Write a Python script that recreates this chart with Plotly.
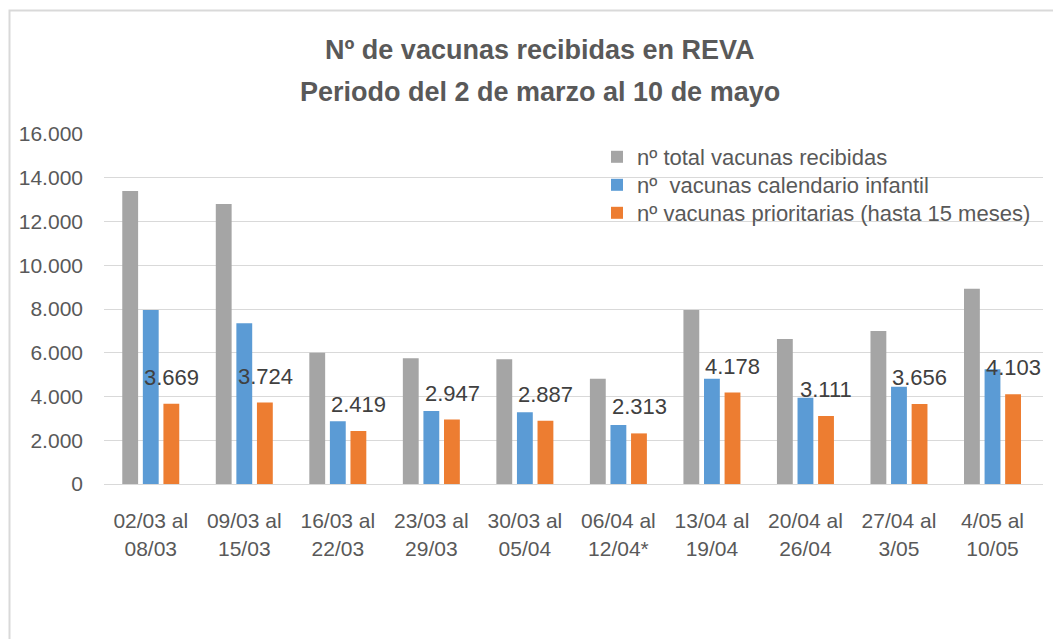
import plotly.graph_objects as go

categories = ["02/03 al<br>08/03", "09/03 al<br>15/03", "16/03 al<br>22/03", "23/03 al<br>29/03",
              "30/03 al<br>05/04", "06/04 al<br>12/04*", "13/04 al<br>19/04", "20/04 al<br>26/04",
              "27/04 al<br>3/05", "4/05 al<br>10/05"]
total_recibidas = [13400, 12800, 6000, 5745, 5700, 4814, 7954, 6629, 6994, 8929]
calendario_infantil = [7950, 7345, 2865, 3337, 3276, 2697, 4814, 3947, 4449, 5242]
prioritarias = [3669, 3724, 2419, 2947, 2887, 2313, 4178, 3111, 3656, 4103]
series_names = ["nº total vacunas recibidas", "nº  vacunas calendario infantil",
                "nº vacunas prioritarias (hasta 15 meses)"]
title_lines = ["Nº de vacunas recibidas en REVA", "Periodo del 2 de marzo al 10 de mayo"]
y_ticks = [0, 2000, 4000, 6000, 8000, 10000, 12000, 14000, 16000]

GRAY = "#A5A5A5"
BLUE = "#5B9BD5"
ORANGE = "#ED7D31"
FONT = "Liberation Sans, Arial, sans-serif"

# page body has an 8px margin: figure placed at (8, 8) in the window
OFF = 8
W, H = 1061 - OFF, 639 - OFF
# target pixel positions in window coordinates
PL, PR, PT, PB = 104, 1043, 134, 484
L, R, T, B = PL - OFF, W - (PR - OFF), PT - OFF, H - (PB - OFF)
pw = W - L - R
ph = H - T - B


def px_x(px):
    return (px - OFF - L) / pw


def px_y(py):
    return (H - B - (py - OFF)) / ph


fig = go.Figure()
legend_ids = ["legend", "legend2", "legend3"]
for name, vals, col, lg in zip(series_names, [total_recibidas, calendario_infantil, prioritarias],
                               [GRAY, BLUE, ORANGE], legend_ids):
    fig.add_trace(go.Bar(x=categories, y=vals, name=name, marker_color=col,
                         marker_line_width=0, legend=lg))


def fmt(v):
    return f"{v:,}".replace(",", ".")


for c, v in zip(categories, prioritarias):
    fig.add_annotation(x=c, y=v, xref="x", yref="y", text=fmt(v), showarrow=False,
                       xshift=21, yshift=12, yanchor="bottom",
                       font=dict(family=FONT, size=22, color="#404040"))

for txt, py in zip(title_lines, [50, 92]):
    fig.add_annotation(x=px_x(540), y=px_y(py), xref="paper", yref="paper", text="<b>" + txt + "</b>",
                       showarrow=False, xanchor="center", yanchor="middle",
                       font=dict(family=FONT, size=27, color="#595959"))

fig.add_shape(type="path", xref="paper", yref="paper",
              path=f"M {px_x(9.5)} {px_y(700)} L {px_x(9.5)} {px_y(10.5)} L {px_x(1100)} {px_y(10.5)}",
              line=dict(color="#D9D9D9", width=2))

legend_common = dict(xanchor="left", yanchor="middle",
                     font=dict(family=FONT, size=22, color="#595959"),
                     bgcolor="rgba(0,0,0,0)", itemwidth=30)

fig.update_layout(
    width=W, height=H,
    margin=dict(l=L, r=R, t=T, b=B),
    paper_bgcolor="white", plot_bgcolor="white",
    separators=",.",
    barmode="group", bargap=0.34, bargroupgap=0.23,
    font=dict(family=FONT, size=21, color="#595959"),
    showlegend=True,
    legend=dict(x=px_x(597), y=px_y(157), **legend_common),
    legend2=dict(x=px_x(597), y=px_y(185), **legend_common),
    legend3=dict(x=px_x(597), y=px_y(213), **legend_common),
    xaxis=dict(showgrid=False, showline=True, linecolor="#D9D9D9", linewidth=1,
               ticks="", tickfont=dict(family=FONT, size=21, color="#595959"),
               ticklabelstandoff=18, fixedrange=True),
    yaxis=dict(range=[0, 16000], tickvals=y_ticks, tickformat=",d", showgrid=True,
               gridcolor="#D9D9D9", gridwidth=1, zeroline=False, showline=False,
               tickfont=dict(family=FONT, size=21, color="#595959"),
               ticklabelstandoff=20, fixedrange=True),
)

fig.write_html("out.html")
